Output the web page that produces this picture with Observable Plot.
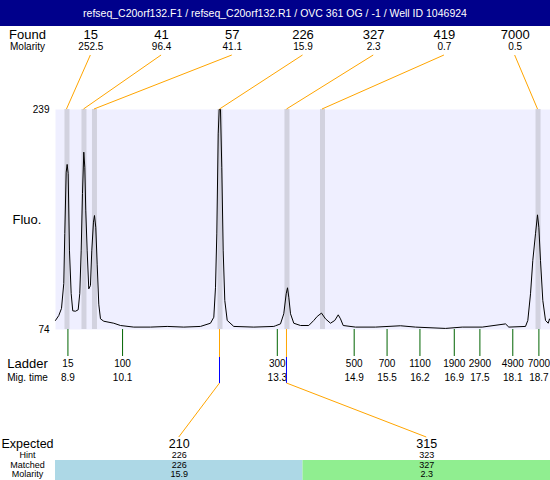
<!DOCTYPE html>
<html>
<head>
<meta charset="utf-8">
<script src="https://cdn.jsdelivr.net/npm/d3@7"></script>
<script src="https://cdn.jsdelivr.net/npm/@observablehq/plot@0.6"></script>
<style>
  body { margin: 0; background: #fff; font-family: "Liberation Sans", Arial, sans-serif; }
  #title { width: 550px; height: 26px; background: #00008B; color: #fff; font-size: 10.5px;
           line-height: 26px; text-align: center; white-space: pre; }
  #chart svg { display: block; }
</style>
</head>
<body>
<div id="title"></div>
<div id="chart"></div>
<script>
// ---------- data ----------
const titleText = "refseq_C20orf132.F1 / refseq_C20orf132.R1 / OVC 361 OG / -1 / Well ID 1046924";

const foundSize     = [15, 41, 57, 226, 327, 419, 7000];
const foundMolarity = [252.5, 96.4, 41.1, 15.9, 2.3, 0.7, 0.5];
const foundTime     = [8.920, 9.272, 9.489, 12.085, 13.470, 14.205, 18.662];

const ladderSize = [15, 100, 300, 500, 700, 1100, 1900, 2900, 4900, 7000];
const ladderTime = [8.94, 10.07, 13.27, 14.86, 15.54, 16.22, 16.93, 17.46, 18.14, 18.68];

const expectedSize    = [210, 315];
const hintSize        = [226, 323];
const matchedSize     = [226, 327];
const matchedMolarity = [15.9, 2.3];
const matchedPeak     = [3, 4];   // index into the found peaks

const yTicks  = [74, 239];
const xDomain = [8.683, 18.92];

const traceTime = [8.683, 8.751, 8.807, 8.854, 8.875, 8.904, 8.924, 8.945, 8.972, 9.007, 9.040, 9.096, 9.152, 9.185, 9.214, 9.241, 9.268, 9.289, 9.309, 9.338, 9.371, 9.406, 9.433, 9.468, 9.489, 9.516, 9.545, 9.578, 9.613, 9.682, 9.888, 10.027, 10.302, 10.647, 10.993, 11.336, 11.681, 11.888, 11.957, 11.992, 12.019, 12.048, 12.068, 12.095, 12.122, 12.151, 12.184, 12.234, 12.370, 12.784, 13.198, 13.233, 13.336, 13.404, 13.454, 13.481, 13.508, 13.543, 13.611, 13.750, 13.921, 14.025, 14.095, 14.184, 14.267, 14.370, 14.459, 14.530, 14.577, 14.633, 14.887, 15.301, 15.818, 16.128, 16.749, 17.094, 17.508, 17.990, 18.058, 18.403, 18.451, 18.507, 18.554, 18.610, 18.651, 18.679, 18.713, 18.761, 18.817, 18.873, 18.900, 18.920];
const traceFluo = [80.8, 84.5, 89.8, 108.5, 146, 192, 197.8, 191, 133, 101, 88, 87.7, 88.8, 101, 133, 176, 207, 195.7, 163, 133, 104.5, 107, 133, 154.5, 159.5, 150.7, 123, 93, 82, 80.2, 78.7, 77, 75.8, 75.8, 76.3, 75.8, 76.3, 78.7, 83.2, 105.7, 145.7, 220.7, 239, 239, 195.7, 133, 95.8, 80.8, 76.3, 75.8, 76.3, 76.8, 78.2, 85.8, 100.8, 105.3, 98.2, 85.8, 78.7, 77, 77, 80.8, 83.8, 86.3, 82, 78.7, 80.8, 85, 82, 77, 75.8, 75.8, 76.8, 75.8, 74.8, 75.8, 75.8, 78.2, 75.8, 76.3, 80.8, 100.8, 125.8, 145.8, 160, 150.7, 125.8, 95.8, 80.8, 78.7, 82, 80.8];

// ---------- styles & layout ----------
const COL = { plotBg: "#EFEFFF", band: "#D2D2DF", link: "#FFA500", ladder: "#006400",
              hintLink: "#0000FF", match: ["#ADD8E6", "#90EE90"] };
const FONT = "'Liberation Sans', Arial, sans-serif";
const W = 550, H = 454;
const M = { top: 83, right: 0, bottom: 151, left: 55 };
const frameH = H - M.top - M.bottom;   // 220

document.getElementById("title").textContent = titleText;

// label slots are evenly spaced across the frame
const slotEdge = (i, n) => xDomain[0] + i * (xDomain[1] - xDomain[0]) / n;
const slotMid  = (i, n) => xDomain[0] + (i + 0.5) * (xDomain[1] - xDomain[0]) / n;

const found = foundSize.map((size, i) => ({
  size, mol: foundMolarity[i].toFixed(1), t: foundTime[i], lx: slotMid(i, foundSize.length)
}));
const ladder = ladderSize.map((size, i) => ({ size, t: ladderTime[i], mig: ladderTime[i].toFixed(1) }));
const expected = expectedSize.map((e, i) => ({
  e, hint: hintSize[i], matched: matchedSize[i], mol: matchedMolarity[i].toFixed(1),
  x1: slotEdge(i, 2), x2: slotEdge(i + 1, 2), lx: slotMid(i, 2), peak: foundTime[matchedPeak[i]]
}));
const trace = traceTime.map((t, i) => ({ t, f: traceFluo[i] }));

const atTop = (pageY, o) => ({ frameAnchor: "top", lineAnchor: "middle", dy: pageY - 26 - M.top, ...o });
const atBot = (pageY, o) => ({ frameAnchor: "bottom", lineAnchor: "middle", dy: pageY - 26 - (H - M.bottom), ...o });

const leftLabel = (label, anchor, pageY, size) => Plot.text([label], {
  text: d => d, frameAnchor: anchor, lineAnchor: "middle", dx: -28, textAnchor: "middle", fontSize: size,
  dy: anchor.startsWith("top") ? pageY - 26 - M.top : pageY - 26 - (H - M.bottom)
});

// rows of the expected section (page y of each text centre)
const ROW = { expected: 443.5, hint: 454.3, matched: 464.3, molarity: 474 };

const chart = Plot.plot({
  width: W, height: H,
  marginTop: M.top, marginRight: M.right, marginBottom: M.bottom, marginLeft: M.left,
  style: { fontFamily: FONT, fontSize: "10px", background: "white", color: "black", overflow: "visible" },
  x: { domain: xDomain, axis: null },
  y: { domain: [74, 239], axis: null },
  marks: [
    Plot.frame({ fill: COL.plotBg, stroke: "none" }),
    Plot.ruleX(found, { x: "t", stroke: COL.band, strokeWidth: 5 }),
    Plot.line(trace, { x: "t", y: "f", stroke: "#000", strokeWidth: 1 }),
    // y labels
    Plot.text(yTicks, { y: d => d, text: d => `${d}`, frameAnchor: "left", textAnchor: "end", dx: -6, fontSize: 10 }),
    Plot.text(["Fluo."], { text: d => d, frameAnchor: "left", textAnchor: "start", dx: -43, fontSize: 13 }),
    // found row
    leftLabel("Found", "top-left", 34.5, 13),
    leftLabel("Molarity", "top-left", 46.7, 10),
    Plot.text(found, atTop(34.5, { x: "lx", text: d => `${d.size}`, fontSize: 13 })),
    Plot.text(found, atTop(46.7, { x: "lx", text: "mol", fontSize: 10 })),
    // ladder
    Plot.ruleX(ladder, { x: "t", stroke: COL.ladder, insetTop: frameH, insetBottom: -27 }),
    leftLabel("Ladder", "bottom-left", 363.5, 13),
    leftLabel("Mig. time", "bottom-left", 376.8, 10),
    Plot.text(ladder, atBot(363.3, { x: "t", text: d => `${d.size}`, fontSize: 10 })),
    Plot.text(ladder, atBot(376.8, { x: "t", text: "mig", fontSize: 10 })),
    // expected section
    ...COL.match.map((c, i) => Plot.rect([expected[i]], {
      x1: "x1", x2: "x2", fill: c, insetTop: frameH + (460 - 329), insetBottom: -(480 - 329)
    })),
    leftLabel("Expected", "bottom-left", ROW.expected, 12.5),
    leftLabel("Hint", "bottom-left", ROW.hint, 9),
    leftLabel("Matched", "bottom-left", ROW.matched, 9),
    leftLabel("Molarity", "bottom-left", ROW.molarity, 9),
    Plot.text(expected, atBot(ROW.expected, { x: "lx", text: d => `${d.e}`, fontSize: 12.5 })),
    Plot.text(expected, atBot(ROW.hint, { x: "lx", text: d => `${d.hint}`, fontSize: 9 })),
    Plot.text(expected, atBot(ROW.matched, { x: "lx", text: d => `${d.matched}`, fontSize: 9 })),
    Plot.text(expected, atBot(ROW.molarity, { x: "lx", text: "mol", fontSize: 9 }))
  ]
});
document.getElementById("chart").append(chart);

// connectors, positioned through the chart's own x scale
const X = t => chart.scale("x").apply(t);
const yPage = p => p - 26;
const g = d3.select(chart).append("g").attr("fill", "none").attr("stroke-width", 1);
g.selectAll(".top").data(found).join("line")
  .attr("stroke", COL.link)
  .attr("x1", d => X(d.lx)).attr("y1", yPage(55))
  .attr("x2", d => X(d.t)).attr("y2", M.top);
const bl = g.selectAll(".bot").data(expected).join("g");
bl.append("line").attr("stroke", COL.link)
  .attr("x1", d => X(d.peak)).attr("x2", d => X(d.peak))
  .attr("y1", H - M.bottom).attr("y2", yPage(357));
bl.append("line").attr("stroke", COL.hintLink)
  .attr("x1", d => X(d.peak)).attr("x2", d => X(d.peak))
  .attr("y1", yPage(357)).attr("y2", yPage(383));
bl.append("line").attr("stroke", COL.link)
  .attr("x1", d => X(d.peak)).attr("y1", yPage(383))
  .attr("x2", d => X(d.lx)).attr("y2", yPage(437));
</script>
</body>
</html>
